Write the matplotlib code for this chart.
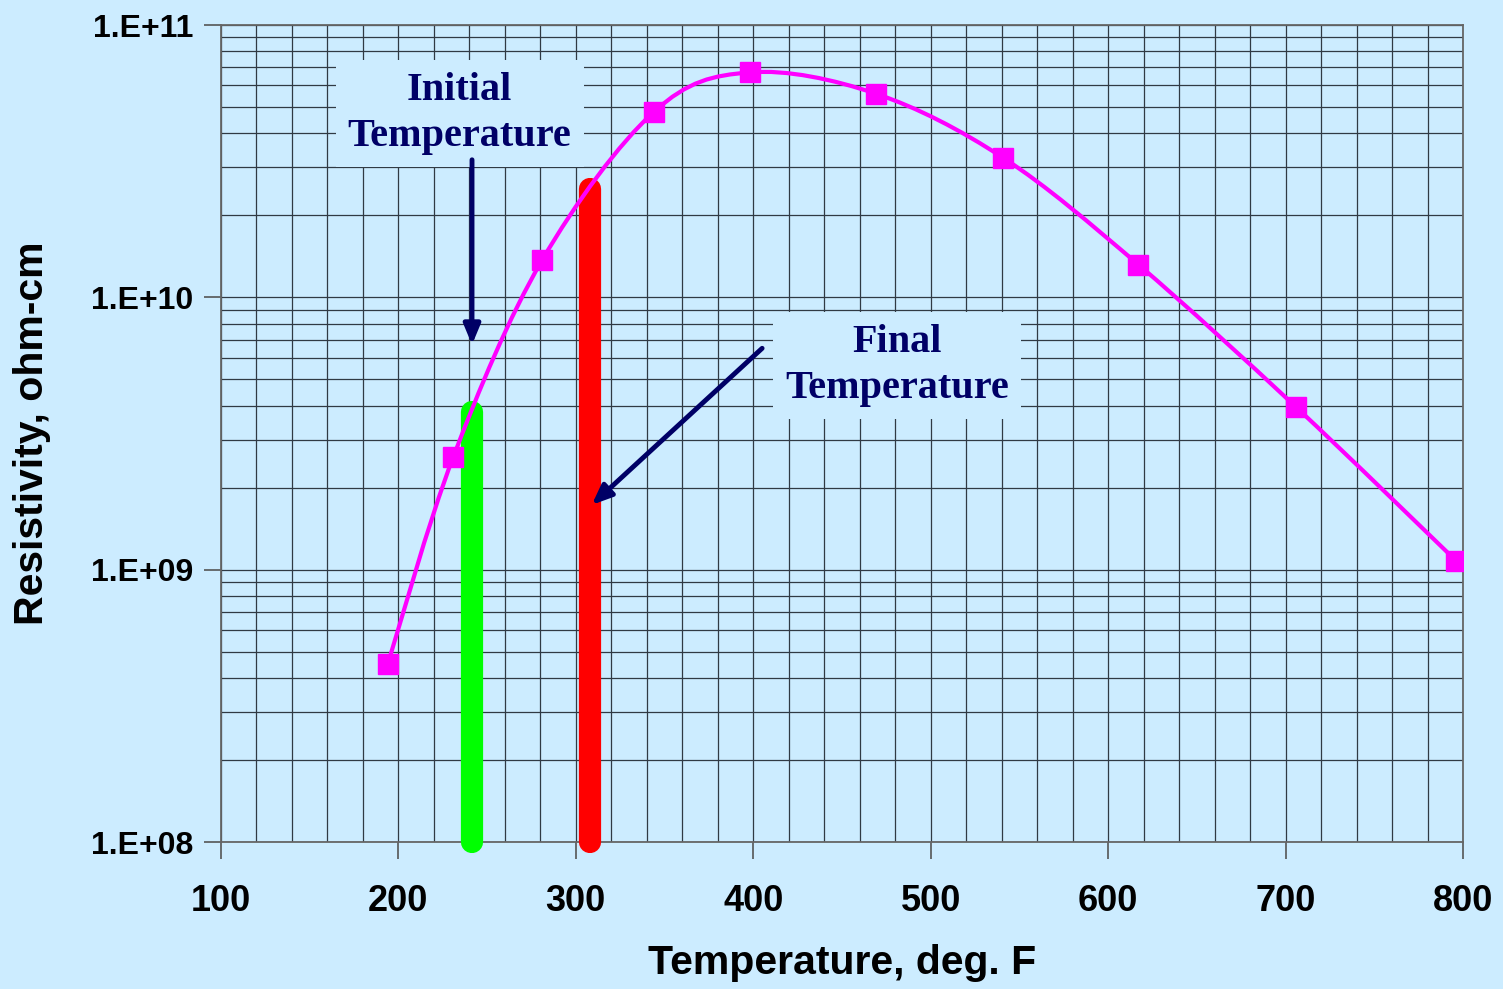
import numpy as np
import matplotlib.pyplot as plt
from matplotlib.path import Path
from matplotlib.patches import PathPatch
from matplotlib.ticker import MultipleLocator, LogLocator, FixedLocator, NullFormatter

# resistivity vs temperature
temp_f = [194, 231, 281, 344, 398, 469, 541, 617, 706, 796]
resistivity = [4.5e8, 2.6e9, 1.37e10, 4.8e10, 6.7e10, 5.6e10, 3.25e10, 1.32e10, 3.95e9, 1.08e9]

# start / end temperature bars
t_initial, r_initial = 241.5, 3.8e9
t_final, r_final = 308, 2.5e10

# arrow endpoints (temperature, resistivity)
arrow_init = [(241.5, 3.2e10), (241.5, 6.7e9)]
arrow_final = [(405, 6.5e9), (309, 1.73e9)]

ytick_vals = [1e8, 1e9, 1e10, 1e11]
ytick_text = ['1.E+08', '1.E+09', '1.E+10', '1.E+11']

bg = '#CCECFF'
navy = '#000066'

fig = plt.figure(figsize=(15.03, 9.89), dpi=100, facecolor=bg)
ax = fig.add_axes([0.147, 0.1486, 0.8264, 0.8261])
ax.set_facecolor(bg)
ax.set_yscale('log')
ax.set_xlim(100, 800)
ax.set_ylim(1e8, 1e11)

# grid: every 20 F, log minors
ax.xaxis.set_major_locator(MultipleLocator(100))
ax.xaxis.set_minor_locator(MultipleLocator(20))
ax.yaxis.set_major_locator(FixedLocator(ytick_vals))
ax.yaxis.set_minor_locator(LogLocator(base=10, subs=np.arange(2, 10)))
ax.yaxis.set_minor_formatter(NullFormatter())
ax.set_yticklabels(ytick_text)
ax.grid(True, which='both', color='#303a44', lw=0.9)
ax.set_axisbelow(True)
ax.tick_params(which='minor', length=0)
ax.tick_params(which='major', direction='out', length=12, width=1.2, color='#555555')
for s in ax.spines.values():
    s.set_color('#666666')
    s.set_linewidth(1.3)

for lab in ax.get_xticklabels():
    lab.set_fontfamily('Liberation Sans')
    lab.set_fontweight('bold')
    lab.set_fontsize(26)
for lab in ax.get_yticklabels():
    lab.set_fontfamily('Liberation Sans')
    lab.set_fontweight('bold')
    lab.set_fontsize(23)
ax.tick_params(axis='x', pad=18)
ax.tick_params(axis='y', pad=8)

ax.set_xlabel('Temperature, deg. F', fontfamily='Liberation Sans', fontweight='bold',
              fontsize=29.5)
ax.set_ylabel('Resistivity, ohm-cm', fontfamily='Liberation Sans', fontweight='bold',
              fontsize=29.5)
ax.xaxis.set_label_coords(0.5, -0.148)
ax.yaxis.set_label_coords(-0.152, 0.5)
ax.xaxis.label.set_va('center')
ax.yaxis.label.set_va('center')

# smoothed curve (Catmull-Rom as cubic Bezier in x / log10 y)
px = np.array(temp_f, dtype=float)
py = np.log10(resistivity)
pts = np.column_stack([px, py])
n = len(pts)
verts = [pts[0]]
codes = [Path.MOVETO]
for i in range(n - 1):
    p0 = pts[max(i - 1, 0)]
    p1 = pts[i]
    p2 = pts[i + 1]
    p3 = pts[min(i + 2, n - 1)]
    c1 = p1 + (p2 - p0) / 6.0
    c2 = p2 - (p3 - p1) / 6.0
    verts += [c1, c2, p2]
    codes += [Path.CURVE4] * 3
verts = np.array(verts)
verts[:, 1] = 10 ** verts[:, 1]
curve = PathPatch(Path(verts, codes), facecolor='none', edgecolor='#FF00FF', lw=3, zorder=4)
ax.add_patch(curve)
ax.plot(temp_f, resistivity, ls='none', marker='s', ms=14, color='#FF00FF', zorder=5)

# temperature bars
ax.plot([t_initial, t_initial], [1e8, r_initial], color='#00FF00', lw=16,
        solid_capstyle='round', zorder=3, clip_on=False)
ax.plot([t_final, t_final], [1e8, r_final], color='#FF0000', lw=16,
        solid_capstyle='round', zorder=3, clip_on=False)

# labels with arrows
box = dict(boxstyle='square,pad=0.3', facecolor=bg, edgecolor='none')
ax.text(234.5, 10 ** 10.675, 'Initial\nTemperature', ha='center', va='center',
        fontfamily='Liberation Serif', fontweight='bold', fontsize=29, color=navy,
        linespacing=1.32, bbox=box, zorder=6)
ax.text(481, 10 ** 9.75, 'Final\nTemperature', ha='center', va='center',
        fontfamily='Liberation Serif', fontweight='bold', fontsize=29, color=navy,
        linespacing=1.32, bbox=box, zorder=6)

arrow = dict(arrowstyle='-|>,head_length=1.2,head_width=0.5', color=navy, lw=3.5,
             shrinkA=0, shrinkB=0)
ax.annotate('', xy=arrow_init[1], xytext=arrow_init[0], arrowprops=arrow, zorder=7)
ax.annotate('', xy=arrow_final[1], xytext=arrow_final[0], arrowprops=arrow, zorder=7)

fig.savefig('out.png', dpi=100, facecolor=bg)
